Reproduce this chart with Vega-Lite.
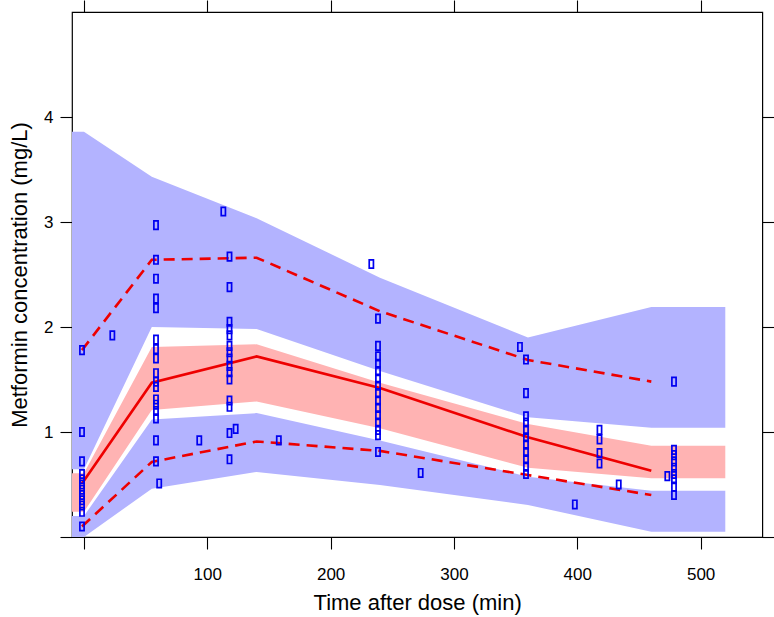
{
  "$schema": "https://vega.github.io/schema/vega-lite/v6.json",
  "autosize": "none",
  "width": 690.3,
  "height": 525,
  "padding": {"left": 72, "top": 12, "right": 11.7, "bottom": 80},
  "background": "white",
  "config": {
    "view": {"stroke": "#000000", "strokeWidth": 1.2},
    "font": "Liberation Sans",
    "axis": {
      "domain": false,
      "grid": false,
      "tickColor": "#000000",
      "tickSize": 12,
      "tickWidth": 1.1,
      "labelFont": "Liberation Sans",
      "labelFontSize": 17,
      "labelColor": "#000000",
      "titleFont": "Liberation Sans",
      "titleFontSize": 22,
      "titleFontWeight": "normal",
      "titleColor": "#000000"
    }
  },
  "datasets": {
    "bands": [
      {"t": -9.7, "band": "upper", "lo": 0.645, "hi": 3.86},
      {"t": 0, "band": "upper", "lo": 0.645, "hi": 3.86},
      {"t": 55, "band": "upper", "lo": 2.0, "hi": 3.43},
      {"t": 140, "band": "upper", "lo": 1.98, "hi": 3.035},
      {"t": 240, "band": "upper", "lo": 1.58, "hi": 2.47},
      {"t": 360, "band": "upper", "lo": 1.14, "hi": 1.9},
      {"t": 460, "band": "upper", "lo": 1.04, "hi": 2.19},
      {"t": 520, "band": "upper", "lo": 1.04, "hi": 2.19},
      {"t": -9.7, "band": "median", "lo": 0.24, "hi": 0.607},
      {"t": 0, "band": "median", "lo": 0.24, "hi": 0.607},
      {"t": 55, "band": "median", "lo": 1.21, "hi": 1.81},
      {"t": 140, "band": "median", "lo": 1.29, "hi": 1.835},
      {"t": 240, "band": "median", "lo": 1.035, "hi": 1.47},
      {"t": 360, "band": "median", "lo": 0.66, "hi": 1.076},
      {"t": 460, "band": "median", "lo": 0.56, "hi": 0.87},
      {"t": 520, "band": "median", "lo": 0.56, "hi": 0.87},
      {"t": -9.7, "band": "lower", "lo": 0.0, "hi": 0.2},
      {"t": 0, "band": "lower", "lo": 0.0, "hi": 0.2},
      {"t": 55, "band": "lower", "lo": 0.46, "hi": 1.12},
      {"t": 140, "band": "lower", "lo": 0.62, "hi": 1.18},
      {"t": 240, "band": "lower", "lo": 0.495, "hi": 0.92},
      {"t": 360, "band": "lower", "lo": 0.305, "hi": 0.574},
      {"t": 460, "band": "lower", "lo": 0.05, "hi": 0.44},
      {"t": 520, "band": "lower", "lo": 0.05, "hi": 0.44}
    ],
    "median": [
      {"t": -1.6, "c": 0.51},
      {"t": 55, "c": 1.47},
      {"t": 140, "c": 1.72},
      {"t": 240, "c": 1.418},
      {"t": 360, "c": 0.95},
      {"t": 460, "c": 0.63}
    ],
    "pct": [
      {"t": -1.6, "c": 1.78, "q": "p95"},
      {"t": 55, "c": 2.64, "q": "p95"},
      {"t": 140, "c": 2.66, "q": "p95"},
      {"t": 240, "c": 2.15, "q": "p95"},
      {"t": 360, "c": 1.686, "q": "p95"},
      {"t": 460, "c": 1.48, "q": "p95"},
      {"t": -1.6, "c": 0.1, "q": "p05"},
      {"t": 55, "c": 0.715, "q": "p05"},
      {"t": 140, "c": 0.91, "q": "p05"},
      {"t": 240, "c": 0.82, "q": "p05"},
      {"t": 360, "c": 0.59, "q": "p05"},
      {"t": 460, "c": 0.4, "q": "p05"}
    ],
    "obs": [
      {"t": -1.6, "c": 1.78}, {"t": -1.6, "c": 1.0}, {"t": -1.6, "c": 0.72}, {"t": -1.6, "c": 0.6},
      {"t": -1.6, "c": 0.55}, {"t": -1.6, "c": 0.5}, {"t": -1.6, "c": 0.45}, {"t": -1.6, "c": 0.4},
      {"t": -1.6, "c": 0.35}, {"t": -1.6, "c": 0.3}, {"t": -1.6, "c": 0.24}, {"t": -1.6, "c": 0.1},
      {"t": 23, "c": 1.92},
      {"t": 58.4, "c": 2.97}, {"t": 58.4, "c": 2.64}, {"t": 58.4, "c": 2.46}, {"t": 58.4, "c": 2.27},
      {"t": 58.4, "c": 2.18}, {"t": 58.4, "c": 1.88}, {"t": 58.4, "c": 1.79}, {"t": 58.4, "c": 1.7},
      {"t": 58.4, "c": 1.56}, {"t": 58.4, "c": 1.48}, {"t": 58.4, "c": 1.43}, {"t": 58.4, "c": 1.31},
      {"t": 58.4, "c": 1.26}, {"t": 58.4, "c": 1.2}, {"t": 58.4, "c": 1.13}, {"t": 58.4, "c": 0.92},
      {"t": 58.4, "c": 0.72},
      {"t": 61, "c": 0.51},
      {"t": 93.5, "c": 0.92},
      {"t": 113, "c": 3.1},
      {"t": 118, "c": 2.67}, {"t": 118, "c": 2.38}, {"t": 118, "c": 2.05}, {"t": 118, "c": 1.98},
      {"t": 118, "c": 1.92}, {"t": 118, "c": 1.82}, {"t": 118, "c": 1.76}, {"t": 118, "c": 1.7},
      {"t": 118, "c": 1.63}, {"t": 118, "c": 1.57}, {"t": 118, "c": 1.5}, {"t": 118, "c": 1.3},
      {"t": 118, "c": 1.24}, {"t": 118, "c": 0.99}, {"t": 118, "c": 0.74},
      {"t": 123, "c": 1.03},
      {"t": 158, "c": 0.92},
      {"t": 233, "c": 2.6},
      {"t": 238.4, "c": 2.08}, {"t": 238.4, "c": 1.82}, {"t": 238.4, "c": 1.72}, {"t": 238.4, "c": 1.65},
      {"t": 238.4, "c": 1.58}, {"t": 238.4, "c": 1.51}, {"t": 238.4, "c": 1.44}, {"t": 238.4, "c": 1.37},
      {"t": 238.4, "c": 1.3}, {"t": 238.4, "c": 1.23}, {"t": 238.4, "c": 1.16}, {"t": 238.4, "c": 1.09},
      {"t": 238.4, "c": 1.02}, {"t": 238.4, "c": 0.97}, {"t": 238.4, "c": 0.81},
      {"t": 273, "c": 0.61},
      {"t": 353.5, "c": 1.81},
      {"t": 358.4, "c": 1.69}, {"t": 358.4, "c": 1.37}, {"t": 358.4, "c": 1.15}, {"t": 358.4, "c": 1.09},
      {"t": 358.4, "c": 1.02}, {"t": 358.4, "c": 0.95}, {"t": 358.4, "c": 0.88}, {"t": 358.4, "c": 0.81},
      {"t": 358.4, "c": 0.74}, {"t": 358.4, "c": 0.67}, {"t": 358.4, "c": 0.6},
      {"t": 398, "c": 0.31},
      {"t": 418, "c": 1.02}, {"t": 418, "c": 0.93}, {"t": 418, "c": 0.8}, {"t": 418, "c": 0.7},
      {"t": 433.6, "c": 0.5},
      {"t": 473, "c": 0.58},
      {"t": 478.4, "c": 1.48}, {"t": 478.4, "c": 0.83}, {"t": 478.4, "c": 0.78}, {"t": 478.4, "c": 0.72},
      {"t": 478.4, "c": 0.66}, {"t": 478.4, "c": 0.6}, {"t": 478.4, "c": 0.55}, {"t": 478.4, "c": 0.48},
      {"t": 478.4, "c": 0.4}
    ]
  },
  "resolve": {"axis": {"x": "independent", "y": "independent"}},
  "layer": [
    {
      "data": {"name": "bands"},
      "mark": {"type": "area", "clip": true, "opacity": 1},
      "encoding": {
        "x": {
          "field": "t", "type": "quantitative",
          "scale": {"domain": [-9.7, 550], "nice": false, "zero": false},
          "axis": {
            "orient": "bottom",
            "values": [0, 100, 200, 300, 400, 500],
            "labelExpr": "datum.value == 0 ? '' : datum.label",
            "labelPadding": 17,
            "titlePadding": 10,
            "title": "Time after dose (min)"
          }
        },
        "y": {
          "field": "lo", "type": "quantitative",
          "scale": {"domain": [0, 5], "nice": false, "zero": false},
          "axis": {
            "orient": "left",
            "values": [0, 1, 2, 3, 4],
            "labelExpr": "datum.value == 0 ? '' : datum.label",
            "labelPadding": 7,
            "titlePadding": 12,
            "title": "Metformin concentration (mg/L)"
          }
        },
        "y2": {"field": "hi"},
        "color": {
          "field": "band", "type": "nominal",
          "scale": {"domain": ["upper", "median", "lower"], "range": ["#B3B3FF", "#FFB3B3", "#B3B3FF"]},
          "legend": null
        }
      }
    },
    {
      "data": {"name": "median"},
      "mark": {"type": "line", "color": "#EE0000", "strokeWidth": 2.6, "clip": true},
      "encoding": {
        "x": {"field": "t", "type": "quantitative", "axis": null},
        "y": {"field": "c", "type": "quantitative", "axis": null}
      }
    },
    {
      "data": {"name": "pct"},
      "mark": {"type": "line", "color": "#EE0000", "strokeWidth": 2.6, "strokeDash": [11, 7], "clip": true},
      "encoding": {
        "x": {"field": "t", "type": "quantitative", "axis": null},
        "y": {"field": "c", "type": "quantitative", "axis": null},
        "detail": {"field": "q", "type": "nominal"}
      }
    },
    {
      "data": {"name": "obs"},
      "mark": {
        "type": "point",
        "shape": "M-0.5,-1H0.5V1H-0.5Z",
        "size": 71,
        "filled": false,
        "stroke": "#0000F0",
        "strokeWidth": 1.7,
        "opacity": 1
      },
      "encoding": {
        "x": {
          "field": "t", "type": "quantitative",
          "axis": {"orient": "top", "values": [0, 100, 200, 300, 400, 500], "labels": false, "title": null}
        },
        "y": {
          "field": "c", "type": "quantitative",
          "axis": {"orient": "right", "values": [0, 1, 2, 3, 4], "labels": false, "title": null}
        }
      }
    }
  ]
}
